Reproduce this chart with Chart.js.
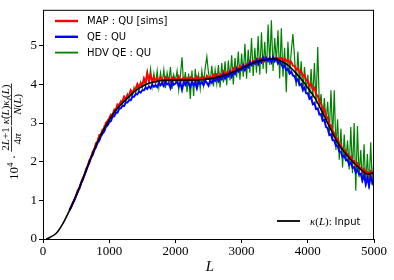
<!DOCTYPE html>
<html>
<head>
<meta charset="utf-8">
<script src="https://cdn.jsdelivr.net/npm/chart.js@4.4.1/dist/chart.umd.min.js"></script>
<style>
  html, body { margin: 0; padding: 0; background: #fff; }
  canvas { display: block; }
</style>
</head>
<body>
<canvas id="kappaChart" width="394" height="280"></canvas>
<script>
// multipoles of the noisy reconstructions: 400, 425, ... 5000
const Lgrid = Array.from({ length: 185 }, (_, i) => 400 + 25 * i);

const mapQU = [
  0.74, 0.84, 0.92, 1.04, 1.12, 1.26, 1.32, 1.46,
  1.57, 1.64, 1.81, 1.89, 2.04, 2.09, 2.26, 2.32,
  2.48, 2.53, 2.69, 2.70, 2.83, 2.84, 3.01, 3.04,
  3.12, 3.22, 3.21, 3.33, 3.35, 3.48, 3.46, 3.55,
  3.57, 3.68, 3.62, 3.72, 3.72, 3.85, 3.79, 3.86,
  3.89, 4.01, 3.92, 4.03, 3.99, 4.15, 4.05, 4.29,
  4.08, 4.24, 4.08, 4.18, 4.07, 4.16, 4.07, 4.19,
  4.13, 4.07, 4.18, 4.11, 4.16, 4.07, 4.18, 4.12,
  4.15, 4.09, 4.20, 4.07, 4.14, 4.17, 4.08, 4.16,
  4.09, 4.18, 4.12, 4.15, 4.07, 4.20, 4.12, 4.17,
  4.14, 4.18, 4.10, 4.22, 4.15, 4.20, 4.14, 4.25,
  4.20, 4.26, 4.18, 4.27, 4.24, 4.33, 4.25, 4.31,
  4.30, 4.36, 4.28, 4.42, 4.37, 4.43, 4.37, 4.48,
  4.43, 4.51, 4.42, 4.53, 4.53, 4.60, 4.52, 4.61,
  4.59, 4.55, 4.66, 4.61, 4.66, 4.59, 4.69, 4.65,
  4.63, 4.69, 4.61, 4.69, 4.66, 4.70, 4.66, 4.68,
  4.68, 4.62, 4.67, 4.60, 4.64, 4.55, 4.58, 4.48,
  4.48, 4.38, 4.42, 4.31, 4.34, 4.21, 4.25, 4.11,
  4.09, 3.97, 4.01, 3.87, 3.91, 3.74, 3.71, 3.55,
  3.50, 3.36, 3.36, 3.17, 3.14, 2.97, 2.94, 2.79,
  2.73, 2.61, 2.60, 2.45, 2.43, 2.30, 2.31, 2.22,
  2.20, 2.08, 2.13, 2.01, 2.02, 1.89, 1.95, 1.85,
  1.84, 1.74, 1.81, 1.70, 1.73, 1.64, 1.75, 1.70,
  1.74
];

const qeQU = [
  0.74, 0.82, 0.93, 1.00, 1.12, 1.22, 1.31, 1.44,
  1.53, 1.66, 1.75, 1.88, 1.97, 2.11, 2.17, 2.30,
  2.38, 2.49, 2.54, 2.66, 2.73, 2.78, 2.90, 2.94,
  3.02, 3.05, 3.16, 3.17, 3.26, 3.27, 3.37, 3.38,
  3.44, 3.44, 3.53, 3.53, 3.59, 3.59, 3.68, 3.68,
  3.75, 3.74, 3.82, 3.79, 3.85, 3.85, 3.92, 3.88,
  3.95, 3.90, 3.99, 3.94, 3.98, 3.93, 4.04, 3.98,
  4.04, 3.96, 4.07, 4.00, 4.03, 3.91, 4.07, 3.99,
  4.02, 4.08, 3.95, 4.04, 3.86, 4.06, 3.99, 4.09,
  4.01, 3.93, 4.07, 3.98, 4.04, 3.90, 4.07, 4.01,
  4.06, 3.98, 4.10, 4.04, 3.97, 4.10, 4.04, 4.12,
  4.09, 4.18, 4.08, 4.18, 4.13, 4.26, 4.15, 4.22,
  4.20, 4.31, 4.20, 4.31, 4.27, 4.40, 4.33, 4.39,
  4.37, 4.48, 4.37, 4.48, 4.44, 4.57, 4.50, 4.57,
  4.53, 4.63, 4.52, 4.63, 4.57, 4.69, 4.61, 4.68,
  4.60, 4.68, 4.57, 4.70, 4.60, 4.67, 4.54, 4.61,
  4.52, 4.44, 4.49, 4.37, 4.40, 4.28, 4.33, 4.23,
  4.21, 4.09, 4.14, 3.98, 4.01, 3.86, 3.92, 3.77,
  3.77, 3.63, 3.67, 3.49, 3.52, 3.36, 3.38, 3.22,
  3.23, 3.06, 3.08, 2.90, 2.87, 2.69, 2.71, 2.56,
  2.55, 2.41, 2.42, 2.27, 2.25, 2.12, 2.16, 2.05,
  2.06, 1.92, 1.98, 1.85, 1.86, 1.72, 1.80, 1.67,
  1.69, 1.52, 1.66, 1.42, 1.58, 1.38, 1.62, 1.45,
  1.55
];

const hdvQU = [
  0.74, 0.83, 0.94, 1.01, 1.13, 1.22, 1.34, 1.43,
  1.56, 1.65, 1.79, 1.88, 2.02, 2.09, 2.23, 2.30,
  2.36, 2.55, 2.58, 2.74, 2.76, 2.93, 2.92, 3.08,
  3.05, 3.22, 3.17, 3.36, 3.28, 3.46, 3.38, 3.57,
  3.48, 3.68, 3.55, 3.75, 3.63, 3.84, 3.70, 3.92,
  3.78, 3.98, 3.84, 4.06, 3.90, 4.15, 3.93, 4.32,
  4.05, 4.40, 3.95, 4.28, 4.00, 4.35, 3.92, 4.30,
  4.02, 4.38, 3.90, 4.30, 4.05, 4.45, 3.88, 4.25,
  4.08, 4.35, 3.85, 4.22, 4.70, 3.95, 4.32, 3.80,
  4.28, 3.62, 4.36, 3.70, 4.40, 3.95, 4.25, 3.88,
  4.35, 3.98, 4.42, 4.72, 4.30, 4.05, 4.48, 3.95,
  4.38, 4.02, 4.50, 3.92, 4.55, 4.05, 4.60, 3.98,
  4.62, 4.10, 4.75, 4.00, 4.68, 4.18, 4.85, 4.12,
  4.80, 4.20, 5.05, 4.15, 4.90, 4.30, 5.20, 4.22,
  4.95, 4.30, 5.25, 4.25, 5.35, 4.40, 5.10, 4.28,
  5.55, 4.50, 5.66, 4.35, 5.20, 4.60, 5.40, 4.15,
  5.45, 4.20, 4.95, 3.80, 5.10, 4.25, 4.85, 5.30,
  4.70, 3.95, 4.85, 4.00, 4.60, 3.80, 4.45, 3.85,
  4.25, 3.60, 4.40, 3.65, 4.55, 3.50, 4.97, 3.40,
  3.75, 3.05, 3.65, 3.00, 3.55, 2.75, 3.85, 2.60,
  3.85, 2.30, 3.10, 2.05, 2.85, 1.85, 2.70, 2.00,
  2.55, 1.80, 2.90, 1.70, 3.00, 1.25, 2.92, 1.60,
  2.30, 1.45, 2.45, 1.35, 2.20, 1.30, 2.50, 1.40,
  2.10
];

// input kappa(L), smooth
const Linput = [50, 100, 200, 300, 400, 500, 600, 700, 800, 900, 1000, 1100, 1200, 1300,
  1400, 1500, 1600, 1700, 1800, 2000, 2200, 2400, 2600, 2800, 3000, 3200, 3400, 3500,
  3600, 3700, 3800, 3900, 4000, 4100, 4200, 4300, 4400, 4500, 4600, 4700, 4800, 4900, 5000];
const kappaInput = [0.0, 0.04, 0.15, 0.40, 0.74, 1.12, 1.55, 2.00, 2.42, 2.78, 3.08, 3.33, 3.52, 3.68,
  3.84, 3.95, 4.03, 4.07, 4.10, 4.11, 4.11, 4.12, 4.17, 4.27, 4.42, 4.57, 4.65, 4.66,
  4.60, 4.50, 4.33, 4.14, 3.91, 3.67, 3.35, 3.00, 2.65, 2.36, 2.15, 1.96, 1.80, 1.68, 1.72];

const xTicks = [0, 1000, 2000, 3000, 4000, 5000];
const yTicks = [0, 1, 2, 3, 4, 5];

const SERIF = '"Liberation Serif", "DejaVu Serif", serif';
const SANS = '"DejaVu Sans", sans-serif';

function pts(xs, ys) {
  return xs.map((x, i) => ({ x: x, y: ys[i] }));
}

// draw a list of [text, font, dy] pieces, return width
function drawRuns(ctx, runs, x, y, measureOnly) {
  let w = 0;
  runs.forEach(r => {
    ctx.font = r[1];
    if (!measureOnly) ctx.fillText(r[0], x + w, y + (r[2] || 0));
    w += ctx.measureText(r[0]).width;
  });
  return w;
}

function drawFrac(ctx, u, num, den, barV) {
  const nw = drawRuns(ctx, num, 0, 0, true);
  const dw = drawRuns(ctx, den, 0, 0, true);
  const w = Math.max(nw, dw) + 2;
  drawRuns(ctx, num, u + (w - nw) / 2, barV - 2.5);
  drawRuns(ctx, den, u + (w - dw) / 2, barV + 9);
  ctx.fillRect(u, barV - 0.4, w, 0.8);
  return u + w;
}

const textPlugin = {
  id: 'textPlugin',
  afterDatasetsDraw(chart) {
    const ctx = chart.ctx;
    const a = chart.chartArea;
    ctx.save();
    ctx.strokeStyle = '#000';
    ctx.lineWidth = 1;
    ctx.strokeRect(a.left + 0.5, a.top + 0.5, a.right - a.left - 1, a.bottom - a.top);
    ctx.restore();
  },
  afterDraw(chart) {
    const ctx = chart.ctx;
    ctx.save();
    ctx.fillStyle = '#000';
    ctx.textBaseline = 'alphabetic';

    // x axis label
    ctx.font = 'italic 15px ' + SERIF;
    ctx.textAlign = 'center';
    ctx.fillText('L', 210, 271);
    ctx.textAlign = 'left';

    // y axis label (rotated)
    ctx.save();
    ctx.translate(18, 180);
    ctx.rotate(-Math.PI / 2);
    const f = '11px ' + SERIF, it = 'italic 11px ' + SERIF;
    let u = drawRuns(ctx, [['10', '13px ' + SERIF, 0], ['4', '9px ' + SERIF, -5.5], [' · ', '13px ' + SERIF, 0]], 0, 0);
    u = drawFrac(ctx, u, [['2', f], ['L', it], ['+1', f]], [['4', f], ['π', it]], -6.5);
    u = drawFrac(ctx, u + 1,
      [['κ̂', it], ['(', f], ['L', it], [')', f], ['κ', it], ['I', 'italic 7px ' + SERIF, 2], ['(', f], ['L', it], [')', f]],
      [['N', it], ['(', f], ['L', it], [')', f]], -6.5);
    ctx.restore();

    // legend, top left
    const entries = [
      ['MAP : QU [sims]', '#ff0000', 2.4],
      ['QE : QU', '#0000ff', 2.4],
      ['HDV QE : QU', '#008000', 1.8]
    ];
    ctx.textBaseline = 'middle';
    entries.forEach((e, i) => {
      const y = 21 + i * 15.8;
      ctx.strokeStyle = e[1];
      ctx.lineWidth = e[2];
      ctx.beginPath();
      ctx.moveTo(55, y);
      ctx.lineTo(78, y);
      ctx.stroke();
      ctx.font = '10px ' + SANS;
      ctx.fillText(e[0], 87, y + 0.5);
    });

    // legend, bottom right
    ctx.strokeStyle = '#000';
    ctx.lineWidth = 1.8;
    ctx.beginPath();
    ctx.moveTo(277, 221);
    ctx.lineTo(300, 221);
    ctx.stroke();
    ctx.textBaseline = 'alphabetic';
    const i11 = 'italic 11px ' + SERIF, f11 = '11px ' + SERIF;
    drawRuns(ctx, [['κ', i11], ['(', f11], ['L', i11], ['): ', f11], ['Input', '10px ' + SANS, 0]], 310, 225);
    ctx.restore();
  }
};

new Chart(document.getElementById('kappaChart'), {
  type: 'line',
  data: {
    datasets: [
      {
        label: 'kappa(L): Input',
        data: pts(Linput, kappaInput),
        borderColor: '#000000',
        borderWidth: 1.6,
        cubicInterpolationMode: 'monotone',
        pointRadius: 0,
        order: 0
      },
      {
        label: 'QE : QU',
        data: pts(Lgrid, qeQU),
        borderColor: '#0000ff',
        borderWidth: 2,
        pointRadius: 0,
        order: 1
      },
      {
        label: 'MAP : QU [sims]',
        data: pts(Lgrid, mapQU),
        borderColor: '#ff0000',
        borderWidth: 2,
        pointRadius: 0,
        order: 2
      },
      {
        label: 'HDV QE : QU',
        data: pts(Lgrid, hdvQU),
        borderColor: '#008000',
        borderWidth: 1.2,
        pointRadius: 0,
        order: 3
      }
    ]
  },
  options: {
    responsive: false,
    animation: false,
    layout: { padding: { left: 0, right: 20, top: 5, bottom: 0 } },
    scales: {
      x: {
        type: 'linear',
        min: 0,
        max: 5000,
        afterFit: s => { s.height = 41; },
        afterBuildTicks: s => { s.ticks = xTicks.map(v => ({ value: v })); },
        grid: { drawOnChartArea: false, drawTicks: true, tickLength: 4, color: '#000' },
        border: { display: false },
        ticks: {
          color: '#000',
          padding: 1,
          maxRotation: 0,
          callback: v => String(v),
          font: { family: SERIF, size: 13 }
        }
      },
      y: {
        min: 0,
        max: 5.93,
        afterFit: s => { s.width = 43; },
        afterBuildTicks: s => { s.ticks = yTicks.map(v => ({ value: v })); },
        grid: { drawOnChartArea: false, drawTicks: true, tickLength: 4, color: '#000' },
        border: { display: false },
        ticks: {
          color: '#000',
          padding: 2,
          callback: v => String(v),
          font: { family: SERIF, size: 13 }
        }
      }
    },
    plugins: {
      legend: { display: false },
      tooltip: { enabled: false }
    }
  },
  plugins: [textPlugin]
});
</script>
</body>
</html>
